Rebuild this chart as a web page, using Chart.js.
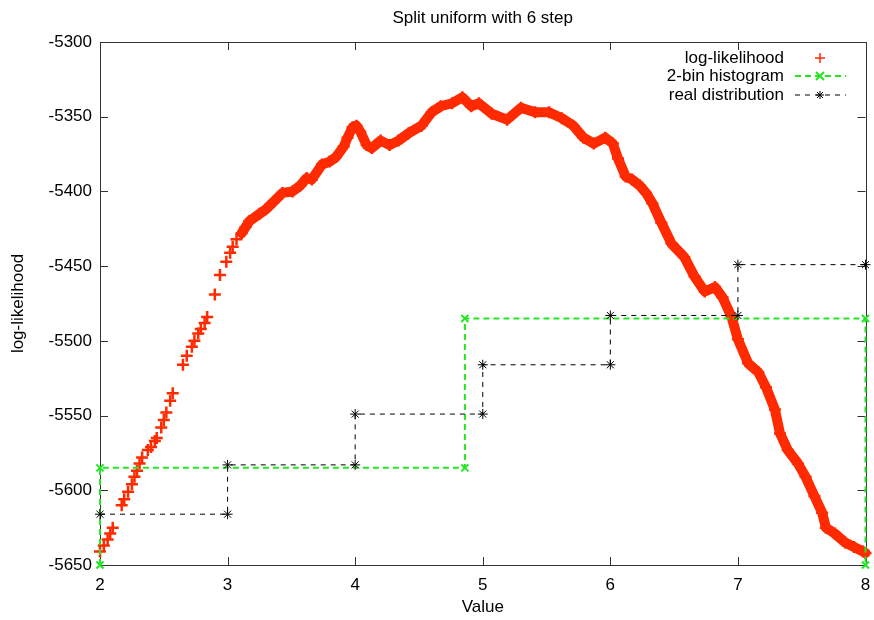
<!DOCTYPE html>
<html lang="en">
<head>
<meta charset="UTF-8">
<title>Split uniform with 6 step</title>
<script src="https://cdn.jsdelivr.net/npm/chart.js"></script>
<style>
  html, body { margin: 0; padding: 0; background: #fff; }
  #wrap { width: 874px; height: 620px; }
</style>
</head>
<body>
<div id="wrap"><canvas id="c"></canvas></div>
<script>
// ticks
const xTicks = [2, 3, 4, 5, 6, 7, 8];
const yTicks = [-5300, -5350, -5400, -5450, -5500, -5550, -5600, -5650];

// log-likelihood
const llX = [2.00, 2.03, 2.06, 2.08, 2.10, 2.17, 2.19, 2.22, 2.25, 2.27, 2.29, 2.31, 2.33, 2.375, 2.40, 2.43, 2.445,
  2.48, 2.50, 2.52, 2.55, 2.57, 2.65, 2.68, 2.72, 2.74, 2.77, 2.79, 2.82, 2.84,
  2.90, 2.94, 2.99, 3.02, 3.04, 3.07, 3.11, 3.14, 3.17, 3.25, 3.30, 3.36, 3.43, 3.51, 3.57, 3.62, 3.66, 3.74, 3.80, 3.85, 3.91,
  3.94, 3.98, 4.01, 4.04, 4.09, 4.13, 4.20, 4.27, 4.34, 4.42, 4.52, 4.60, 4.67, 4.76, 4.84, 4.91, 4.97, 5.07,
  5.19, 5.30, 5.41, 5.52, 5.62, 5.71, 5.79, 5.87, 5.96, 6.02, 6.06, 6.12, 6.17, 6.23, 6.28, 6.33, 6.40, 6.48,
  6.58, 6.66, 6.74, 6.82, 6.88, 6.95, 7.00, 7.08, 7.16, 7.22, 7.29, 7.33, 7.39, 7.47, 7.53, 7.60, 7.66, 7.69,
  7.76, 7.84, 7.91, 7.98, 8.00];
const llY = [-5641, -5637, -5633, -5629, -5625, -5610, -5606, -5601, -5596, -5591, -5587, -5582, -5578, -5573, -5571, -5567, -5565,
  -5558, -5553, -5548, -5540, -5535, -5516, -5510, -5504, -5500, -5495, -5492, -5488, -5484,
  -5469, -5456, -5447, -5441, -5437, -5432, -5428, -5424, -5420, -5415, -5412, -5407, -5401, -5400, -5396, -5391, -5392, -5382, -5380, -5377, -5370,
  -5364, -5357, -5356, -5360, -5369, -5371, -5366, -5369, -5366, -5361, -5356, -5347, -5343, -5341, -5337, -5343, -5341, -5348,
  -5352, -5344, -5347, -5347, -5351, -5356, -5364, -5368, -5364, -5368, -5378, -5390, -5392, -5396, -5401, -5408, -5421, -5435,
  -5444, -5457, -5467, -5464, -5471, -5484, -5499, -5515, -5521, -5531, -5546, -5562, -5573, -5582, -5591, -5604, -5615, -5625,
  -5629, -5635, -5638, -5641, -5642];

// 2-bin histogram
const histX = [2, 2, 4.86, 4.86, 8, 8];
const histY = [-5650, -5585, -5585, -5485, -5485, -5650];

// real distribution
const realX = [2, 3, 3, 4, 4, 5, 5, 6, 6, 7, 7, 8];
const realY = [-5616, -5616, -5583, -5583, -5549, -5549, -5516, -5516, -5483, -5483, -5449, -5449];

const RED = '#ff2a00';
const GREEN = '#22e622';

const pts = (xs, ys) => xs.map((x, i) => ({ x: x, y: ys[i] }));

Chart.defaults.font.family = "'Liberation Sans', Arial, sans-serif";
Chart.defaults.font.size = 17;
Chart.defaults.color = '#000';

// gnuplot style box with inward ticks
const frame = {
  id: 'frame',
  beforeDatasetsDraw(chart) {
    const { ctx, chartArea: a, scales: { x, y } } = chart;
    ctx.save();
    ctx.strokeStyle = '#333';
    ctx.lineWidth = 1;
    ctx.beginPath();
    xTicks.forEach(v => {
      const px = Math.round(x.getPixelForValue(v)) + 0.5;
      ctx.moveTo(px, a.bottom); ctx.lineTo(px, a.bottom - 8);
      ctx.moveTo(px, a.top); ctx.lineTo(px, a.top + 8);
    });
    yTicks.forEach(v => {
      const py = Math.round(y.getPixelForValue(v)) + 0.5;
      ctx.moveTo(a.left, py); ctx.lineTo(a.left + 8, py);
      ctx.moveTo(a.right, py); ctx.lineTo(a.right - 8, py);
    });
    ctx.stroke();
    ctx.strokeRect(Math.round(a.left) + 0.5, Math.round(a.top) + 0.5, Math.round(a.width), Math.round(a.height));
    ctx.restore();
  }
};

// legend inside the top right corner
const keyBox = {
  id: 'keyBox',
  afterDraw(chart) {
    const { ctx } = chart;
    const tx = 784, x0 = 795, x1 = 846, xm = 820;
    const rows = [
      { text: 'log-likelihood', y: 58 },
      { text: '2-bin histogram', y: 76 },
      { text: 'real distribution', y: 95 }
    ];
    ctx.save();
    ctx.font = "17px 'Liberation Sans', Arial, sans-serif";
    ctx.fillStyle = '#000';
    ctx.textAlign = 'right';
    ctx.textBaseline = 'middle';
    rows.forEach(r => ctx.fillText(r.text, tx, r.y));

    // red +
    let y0 = rows[0].y;
    ctx.strokeStyle = RED; ctx.lineWidth = 1.5;
    ctx.beginPath();
    ctx.moveTo(xm - 5, y0); ctx.lineTo(xm + 5, y0);
    ctx.moveTo(xm, y0 - 5); ctx.lineTo(xm, y0 + 5);
    ctx.stroke();

    // green dashed with x
    y0 = rows[1].y;
    ctx.strokeStyle = GREEN; ctx.lineWidth = 2; ctx.setLineDash([6, 4]);
    ctx.beginPath(); ctx.moveTo(x0, y0); ctx.lineTo(x1, y0); ctx.stroke();
    ctx.setLineDash([]);
    ctx.beginPath();
    ctx.moveTo(xm - 4, y0 - 4); ctx.lineTo(xm + 4, y0 + 4);
    ctx.moveTo(xm - 4, y0 + 4); ctx.lineTo(xm + 4, y0 - 4);
    ctx.stroke();

    // black dashed with *
    y0 = rows[2].y;
    ctx.strokeStyle = '#000'; ctx.lineWidth = 1; ctx.setLineDash([5, 5]);
    ctx.beginPath(); ctx.moveTo(x0, y0); ctx.lineTo(x1, y0); ctx.stroke();
    ctx.setLineDash([]);
    ctx.beginPath();
    ctx.moveTo(xm - 4, y0); ctx.lineTo(xm + 4, y0);
    ctx.moveTo(xm, y0 - 4); ctx.lineTo(xm, y0 + 4);
    ctx.moveTo(xm - 3, y0 - 3); ctx.lineTo(xm + 3, y0 + 3);
    ctx.moveTo(xm - 3, y0 + 3); ctx.lineTo(xm + 3, y0 - 3);
    ctx.stroke();
    ctx.restore();
  }
};

new Chart(document.getElementById('c'), {
  type: 'scatter',
  data: {
    datasets: [
      {
        label: 'log-likelihood',
        data: pts(llX, llY),
        order: 3,
        showLine: true,
        borderColor: RED,
        borderWidth: 10,
        borderJoinStyle: 'round',
        borderCapStyle: 'round',
        segment: {
          borderColor: c => c.p0.parsed.x < 3.1 ? 'rgba(0,0,0,0)' : RED
        },
        pointStyle: 'cross',
        pointRadius: 6,
        pointBorderWidth: 2.5,
        pointBorderColor: RED,
        pointBackgroundColor: RED,
        clip: false
      },
      {
        label: '2-bin histogram',
        data: pts(histX, histY),
        order: 2,
        showLine: true,
        borderColor: GREEN,
        borderWidth: 2,
        borderDash: [6, 4],
        pointStyle: 'crossRot',
        pointRadius: 5,
        pointBorderWidth: 2,
        pointBorderColor: GREEN,
        clip: false
      },
      {
        label: 'real distribution',
        data: pts(realX, realY),
        order: 1,
        showLine: true,
        borderColor: '#000',
        borderWidth: 1,
        borderDash: [5, 5],
        pointStyle: 'star',
        pointRadius: 5,
        pointBorderWidth: 1,
        pointBorderColor: '#000',
        clip: false
      }
    ]
  },
  options: {
    responsive: true,
    maintainAspectRatio: false,
    animation: false,
    layout: { padding: { left: 0, right: 4, top: 0, bottom: 0 } },
    plugins: {
      legend: { display: false },
      tooltip: { enabled: false },
      title: {
        display: true,
        text: 'Split uniform with 6 step',
        fullSize: false,
        font: { size: 17, weight: 'normal' },
        padding: { top: 8, bottom: 13.6 }
      }
    },
    scales: {
      x: {
        type: 'linear',
        min: 2,
        max: 8,
        afterFit: s => { s.height = 55; s.paddingLeft = 0; s.paddingRight = 0; },
        afterBuildTicks: s => { s.ticks = xTicks.map(v => ({ value: v })); },
        grid: { display: false, drawTicks: false },
        border: { display: false },
        ticks: { padding: 10, callback: v => String(v) },
        title: { display: true, text: 'Value', padding: { top: 2, bottom: 2 } }
      },
      y: {
        type: 'linear',
        min: -5650,
        max: -5300,
        afterFit: s => { s.width = 100; s.paddingTop = 0; s.paddingBottom = 0; },
        afterBuildTicks: s => { s.ticks = yTicks.map(v => ({ value: v })); },
        grid: { display: false, drawTicks: false },
        border: { display: false },
        ticks: { padding: 8, callback: v => String(v) },
        title: { display: true, text: 'log-likelihood', padding: { top: 8, bottom: 2 } }
      }
    }
  },
  plugins: [frame, keyBox]
});
</script>
</body>
</html>
